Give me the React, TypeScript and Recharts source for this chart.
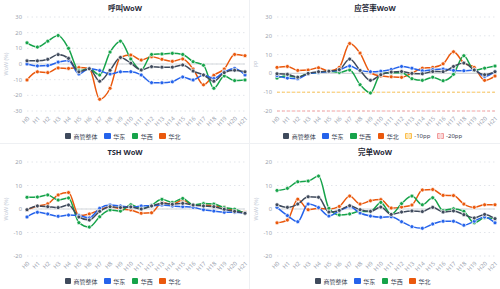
import React from "react";
import {
  LineChart,
  Line,
  XAxis,
  YAxis,
  CartesianGrid,
  ReferenceLine,
  Legend,
} from "recharts";

const HOURS = [
  "H0", "H1", "H2", "H3", "H4", "H5", "H6", "H7", "H8", "H9", "H10",
  "H11", "H12", "H13", "H14", "H15", "H16", "H17", "H18", "H19", "H20", "H21",
];

// 呼叫 WoW (%)
const CALL_TOTAL = [2, 2, 3, 6, 3.6, -5, -3, -11, -4, 4.2, 0.5, -3.8, -1.7, -2, -2, -0.6, -4.5, -7, -11, -5.5, -4, -5];
const CALL_EAST = [0, -1.2, -1, 1.2, 2.3, -6.4, -2.8, -4.2, -6.4, -5, -4.9, -7, -11.9, -12, -11.4, -8.3, -10.2, -7, -9.3, -5, -2.8, -7];
const CALL_WEST = [13.5, 10.8, 14.6, 18.2, 10, -4.2, -3, -7, 7.6, 14.6, 3.2, -3.8, 6.1, 6.4, 6.8, 6.1, 1.5, -0.8, -15.5, -7.6, -10.6, -10.2];
const CALL_NORTH = [-10.2, -5, -5.5, -2.5, -2.8, -2.3, -2.8, -22.5, -15.5, 4.2, 5.7, 2.5, 4.7, 3, 1.7, 3.2, -3.2, -13.3, -7.2, -3.2, 6.1, 5.3];

// 应答率 WoW (pp)
const ANSWER_TOTAL = [-0.2, -0.5, -2, 0, 0.9, 1.2, 2, 7.6, 1.6, -3.7, -0.7, 0.7, 1, 0, -0.2, 1, 0.9, 3.7, 5.5, 1.8, -0.7, 0.9];
const ANSWER_EAST = [-1.2, -2.5, -2.8, -0.2, 0.5, 1, 1.8, 3.9, 1.6, 0.9, 1.2, 2.1, 3.7, 2.8, 1.4, 2, 2.3, 1.6, 1.4, 1.8, -1.6, 1];
const ANSWER_WEST = [-2.5, -1.2, -2, 0, 0.5, 1.2, 0.5, 1.8, -6, -10.4, -0.2, 0.4, 0.4, -2.8, -3.7, -2, -3.9, -0.5, 9.4, 1.6, 2.8, 3.9];
const ANSWER_NORTH = [3.2, 3.7, 1.6, 1.8, 3, 1.2, 3.2, 15.9, 10.8, 0.4, -1.4, -1.8, -2.1, 0.2, 2.8, 3.2, 5.1, 11.5, 5.5, 3.2, -3.7, -1.4];

// TSH WoW (%)
const TSH_TOTAL = [-0.3, 1.3, 1, 0.6, 1.7, -3.4, -4.7, -1, 1, 0.6, 0.9, 0, 1.3, 2.4, 2, 2.4, 1.7, 1.3, 1, -0.1, -1, -1.8];
const TSH_EAST = [-3.4, -1.4, -2.1, -3.1, -2.6, -2.8, -3.8, 0.3, 1.7, 1.3, 0.7, 1.3, 1.4, 1.7, 1.3, 1, 0.7, -0.3, -0.9, -1.4, -1.4, -1.8];
const TSH_WEST = [5, 5.1, 6, 3.8, 4.7, -5.8, -7.7, -3.3, -0.4, -0.9, 1.8, 0.1, 1.7, 4.1, 2.8, 4.5, 1.8, 2.3, 2.1, 0.6, -0.1, -1.8];
const TSH_NORTH = [-0.3, 1.3, 2.2, 6, 7, -2.8, -2.1, -0.4, 1, 0, -0.4, -1.8, -1.6, 2.8, 2, 3.8, 1.7, 1.7, 1.4, 0.7, -0.7, -1.4];

// 完单 WoW (%)
const DONE_TOTAL = [1.8, 0.7, 2.1, 5.2, 5, -1.3, -0.6, 1.4, -0.3, -1, 0.8, -2.3, -1.3, -0.8, -1.1, 0.7, -1.3, -0.8, -2.4, -3.8, -2.3, -4.1];
const DONE_EAST = [0.7, -2.8, -5.4, 2.1, 0.6, -3, -0.8, 1, -1.7, -3, -3.5, -3.3, -5.4, -7.5, -8.2, -6.4, -5.2, -5.2, -6.9, -5.2, -3.4, -5.9];
const DONE_WEST = [7.9, 8.8, 11.6, 11.9, 14, 0.3, -2.5, -2.1, -1, -1.1, 2.8, -2.3, 2.3, 5.5, 1.8, 4.8, -0.6, 0.1, -1, -5.9, -3.7, -4];
const DONE_NORTH = [-5.9, -4.7, 4.2, -0.3, 0.3, 0, 1.1, 5.5, 2.1, 3.5, 4, 0.4, 0.8, 1.7, 8.1, 8.3, 5.8, 5.7, 2.1, 0.7, 1.8, 1.8];

const SERIES = [
  { key: "total", name: "商管整体", color: "#3f4a5c" },
  { key: "east", name: "华东", color: "#2563eb" },
  { key: "west", name: "华西", color: "#16a34a" },
  { key: "north", name: "华北", color: "#ea580c" },
];

const FONT = "'Noto Sans', 'Noto Sans CJK SC', sans-serif";
const TICK_STYLE = { fontSize: 5.8, fill: "#9ca3af", fontFamily: FONT };

const buildRows = (total: number[], east: number[], west: number[], north: number[]) =>
  HOURS.map((hour, i) => ({ hour, total: total[i], east: east[i], west: west[i], north: north[i] }));

type LegendItem = { name: string; color: string; dashed?: boolean };

const ChartLegend = ({ items }: { items: LegendItem[] }) => (
  <div
    style={{
      display: "flex",
      justifyContent: "center",
      alignItems: "center",
      height: 14,
      fontFamily: FONT,
      fontSize: 6,
      color: "#374151",
    }}
  >
    {items.map((it) => (
      <div key={it.name} style={{ display: "flex", alignItems: "center", margin: "0 3.3px" }}>
        <span
          style={{
            display: "inline-block",
            width: 6.5,
            height: 6.5,
            borderRadius: 1,
            marginRight: 2.5,
            boxSizing: "border-box",
            background: it.dashed ? it.color + "66" : it.color,
            border: it.dashed ? `1px dashed ${it.color}` : "none",
          }}
        />
        <span>{it.name}</span>
      </div>
    ))}
  </div>
);

interface PanelProps {
  title: string;
  yLabel: string;
  height: number;
  top: number;
  ticks: number[];
  rows: ReturnType<typeof buildRows>;
  thresholds?: { value: number; name: string; color: string }[];
}

const Panel = ({ title, yLabel, height, top, ticks, rows, thresholds = [] }: PanelProps) => {
  const legendItems: LegendItem[] = [
    ...SERIES.map((s) => ({ name: s.name, color: s.color })),
    ...thresholds.map((t) => ({ name: t.name, color: t.color, dashed: true })),
  ];
  return (
    <div style={{ position: "relative", width: 250, height, boxSizing: "border-box" }}>
      <div
        style={{
          position: "absolute",
          top: 3,
          left: 0,
          width: 250,
          textAlign: "center",
          fontFamily: FONT,
          fontWeight: 700,
          fontSize: 7.5,
          color: "#1f2937",
          lineHeight: "11px",
        }}
      >
        {title}
      </div>
      <LineChart
        width={250}
        height={height}
        data={rows}
        margin={{ top, right: 5, left: 0, bottom: 1 }}
      >
        <CartesianGrid vertical={false} stroke="#e2e5ea" strokeDasharray="1.5 3" />
        <XAxis
          dataKey="hour"
          height={18}
          interval={0}
          axisLine={false}
          tickLine={false}
          tickSize={0}
          tickMargin={5}
          angle={-45}
          textAnchor="end"
          tick={TICK_STYLE}
        />
        <YAxis
          width={27}
          domain={[ticks[0], ticks[ticks.length - 1]]}
          ticks={ticks}
          interval={0}
          axisLine={false}
          tickLine={false}
          tickSize={0}
          tickMargin={5}
          tick={TICK_STYLE}
          label={{
            value: yLabel,
            angle: -90,
            position: "insideLeft",
            offset: 6,
            style: { fontSize: 5.5, fill: "#c3cad6", fontFamily: FONT, textAnchor: "middle" },
          }}
        />
        <ReferenceLine y={0} stroke="#d4d7dc" strokeWidth={1.2} />
        {thresholds.map((t) => (
          <ReferenceLine key={t.name} y={t.value} stroke={t.color} strokeDasharray="3 2" strokeWidth={0.9} />
        ))}
        {[...SERIES].reverse().map((s) => (
          <Line
            key={s.key}
            type="monotone"
            dataKey={s.key}
            name={s.name}
            stroke={s.color}
            strokeWidth={1.5}
            dot={{ r: 2, fill: s.color, stroke: "#ffffff", strokeWidth: 0.7 }}
            activeDot={false}
            isAnimationActive={false}
          />
        ))}
        <Legend verticalAlign="bottom" height={14} content={() => <ChartLegend items={legendItems} />} />
      </LineChart>
    </div>
  );
};

export default function App() {
  const panelBorder = "1px solid #eef0f3";
  return (
    <div
      style={{
        position: "absolute",
        left: 0,
        top: 0,
        width: 500,
        height: 289,
        background: "#ffffff",
        display: "grid",
        gridTemplateColumns: "250px 250px",
        gridTemplateRows: "144px 145px",
      }}
    >
      <div style={{ borderRight: panelBorder, borderBottom: panelBorder }}>
        <Panel
          title="呼叫WoW"
          yLabel="WoW (%)"
          height={144}
          top={17}
          ticks={[-30, -20, -10, 0, 10, 20, 30]}
          rows={buildRows(CALL_TOTAL, CALL_EAST, CALL_WEST, CALL_NORTH)}
        />
      </div>
      <div style={{ borderBottom: panelBorder }}>
        <Panel
          title="应答率WoW"
          yLabel="PP"
          height={144}
          top={17}
          ticks={[-20, -10, 0, 10, 20, 30]}
          rows={buildRows(ANSWER_TOTAL, ANSWER_EAST, ANSWER_WEST, ANSWER_NORTH)}
          thresholds={[
            { value: -10, name: "-10pp", color: "#fbbf4a" },
            { value: -20, name: "-20pp", color: "#f29a9a" },
          ]}
        />
      </div>
      <div style={{ borderRight: panelBorder }}>
        <Panel
          title="TSH WoW"
          yLabel="WoW (%)"
          height={145}
          top={18}
          ticks={[-20, -10, 0, 10, 20]}
          rows={buildRows(TSH_TOTAL, TSH_EAST, TSH_WEST, TSH_NORTH)}
        />
      </div>
      <div>
        <Panel
          title="完单WoW"
          yLabel="WoW (%)"
          height={145}
          top={18}
          ticks={[-20, -10, 0, 10, 20]}
          rows={buildRows(DONE_TOTAL, DONE_EAST, DONE_WEST, DONE_NORTH)}
        />
      </div>
    </div>
  );
}
